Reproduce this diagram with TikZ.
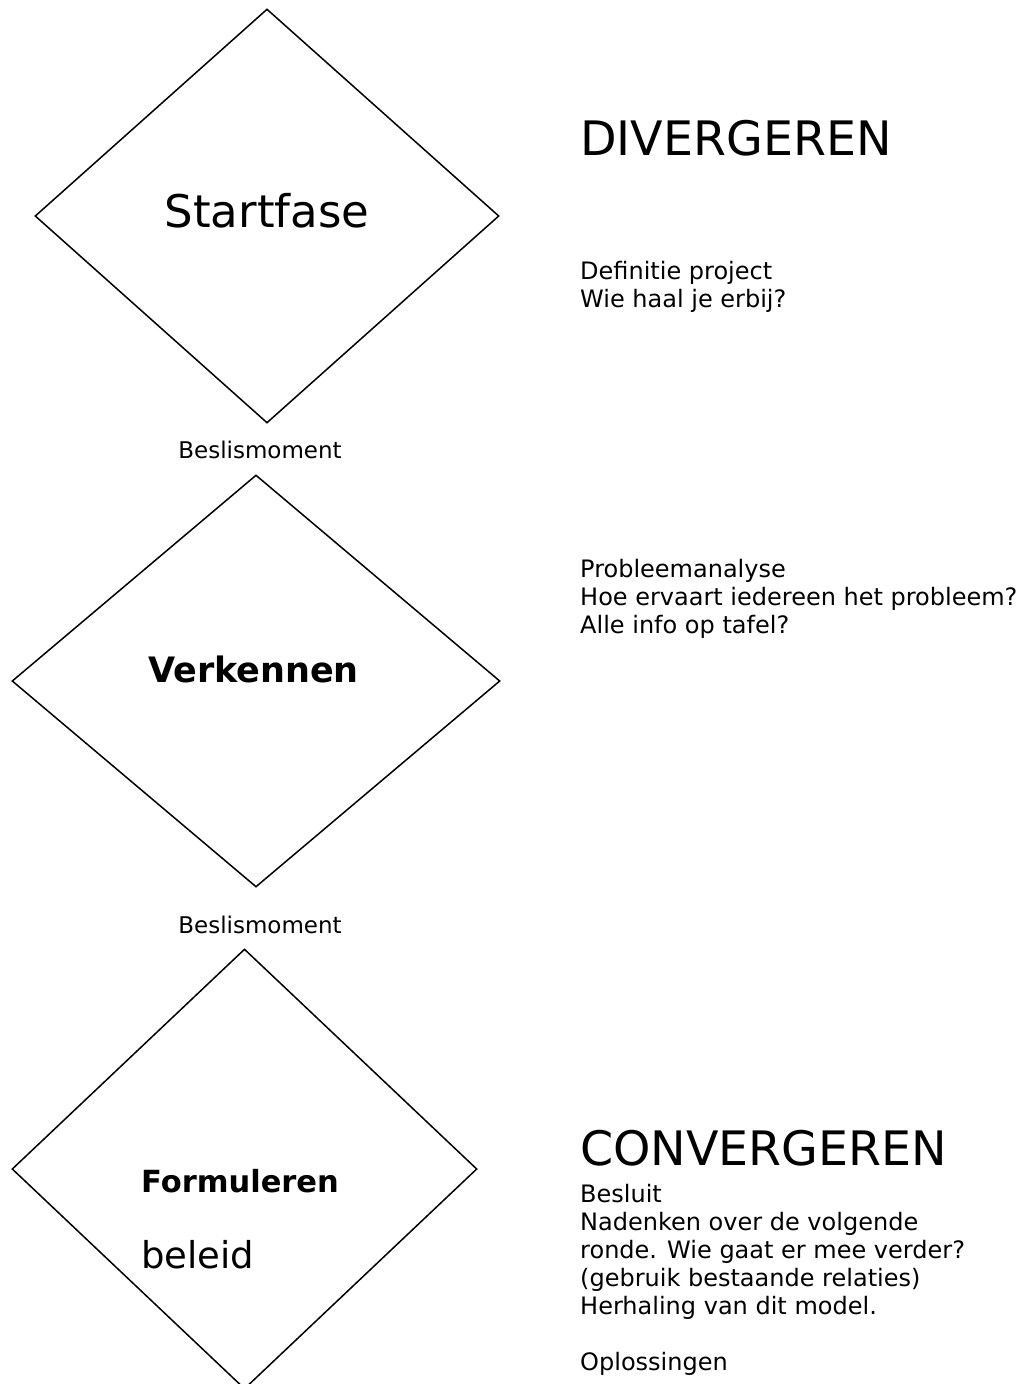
\documentclass[tikz,border=0pt]{standalone}
\usepackage{fontspec}
\setmainfont{DejaVu Sans}
\usetikzlibrary{shapes.geometric}
\tikzset{
  phase/.style={diamond, draw, line width=1.5pt, inner sep=0pt, aspect=1},
  body/.style={inner sep=0pt, anchor=base west, font=\fontsize{24}{28}\selectfont},
  label/.style={inner sep=0pt, anchor=base, font=\fontsize{23}{28}\selectfont},
  title/.style={inner sep=0pt, anchor=base west, font=\fontsize{47.5}{50}\selectfont}
}
\begin{document}
\begin{tikzpicture}[x=1pt,y=-1pt]
\useasboundingbox (0,0) rectangle (1027,1384);
% diamonds
\node[phase, minimum width=464pt, minimum height=414pt] (d1) at (267,216) {};
\node[phase, minimum width=488pt, minimum height=412pt] (d2) at (256,681) {};
\node[phase, minimum width=465pt, minimum height=440pt] (d3) at (244.5,1169) {};
% diamond texts
\node[inner sep=0pt, anchor=base, font=\fontsize{45}{50}\selectfont] (t1) at (267,227) {Startfase};
\node[label] (b1) at (260,458) {Beslismoment};
\node[inner sep=0pt, anchor=base, font=\fontsize{35}{40}\selectfont\bfseries] (t2) at (253.5,682) {Verkennen};
\node[label] (b2) at (260,933) {Beslismoment};
\node[inner sep=0pt, anchor=base west, font=\fontsize{30.5}{36}\selectfont\bfseries] (t3) at (141,1192) {Formuleren};
\node[inner sep=0pt, anchor=base west, font=\fontsize{37}{40}\selectfont] (t4) at (141,1268) {beleid};
% right column
\node[title] (div) at (580,155) {DIVERGEREN};
\node[body] (r1) at (580,279) {Definitie project};
\node[body] (r2) at (580,307) {Wie haal je erbij?};
\node[body] (r3) at (580,577) {Probleemanalyse};
\node[body] (r4) at (580,605) {Hoe ervaart iedereen het probleem?};
\node[body] (r5) at (580,633) {Alle info op tafel?};
\node[title] (con) at (580,1165) {CONVERGEREN};
\node[body] (r6) at (580,1202) {Besluit};
\node[body] (r7) at (580,1230) {Nadenken over de volgende};
\node[body] (r8) at (580,1258) {ronde. Wie gaat er mee verder?};
\node[body] (r9) at (580,1286) {(gebruik bestaande relaties)};
\node[body] (r10) at (580,1314) {Herhaling van dit model.};
\node[body] (r11) at (580,1370) {Oplossingen};
\end{tikzpicture}
\end{document}
